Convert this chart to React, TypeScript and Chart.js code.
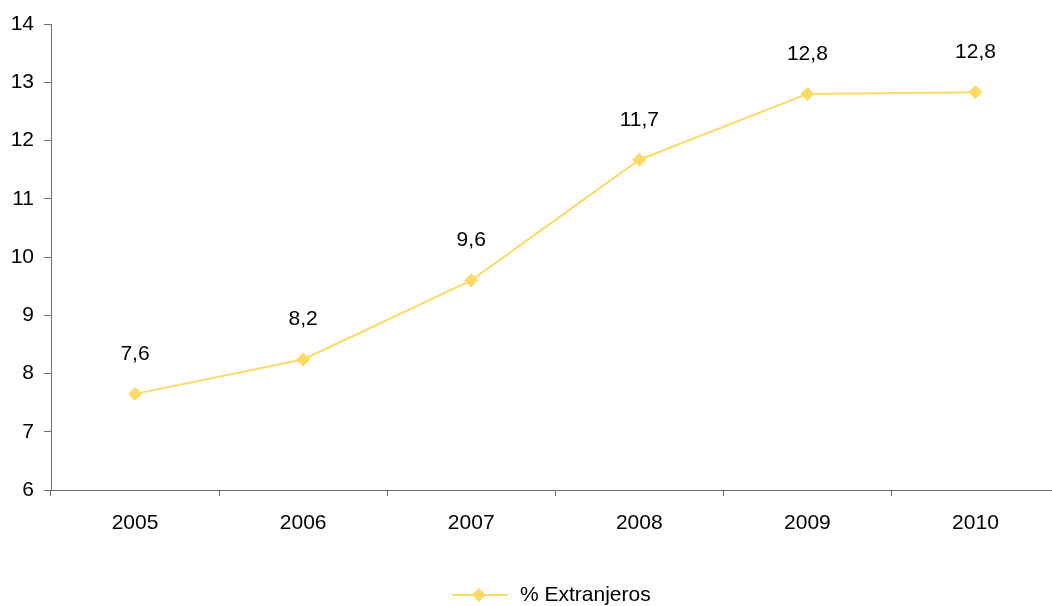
import React, { useEffect, useRef } from "react";
import { Chart, registerables } from "chart.js";

Chart.register(...registerables);

const years = ["2005", "2006", "2007", "2008", "2009", "2010"];
const values = [7.65, 8.24, 9.6, 11.67, 12.8, 12.83];
const valueLabels = ["7,6", "8,2", "9,6", "11,7", "12,8", "12,8"];
const seriesName = "% Extranjeros";

const LINE_COLOR = "#FFD966";
const AXIS_COLOR = "#6e6e6e";
const FONT = "'Liberation Sans', Arial, sans-serif";
const FS = 21;

export default function App() {
  const ref = useRef<HTMLCanvasElement | null>(null);

  useEffect(() => {
    if (!ref.current) return;
    const labelPlugin = {
      id: "valueLabels",
      afterDatasetsDraw(chart: any) {
        const ctx = chart.ctx;
        const meta = chart.getDatasetMeta(0);
        ctx.save();
        ctx.fillStyle = "#000";
        ctx.font = `${FS}px ${FONT}`;
        ctx.textAlign = "center";
        ctx.textBaseline = "middle";
        meta.data.forEach((pt: any, i: number) => {
          ctx.fillText(valueLabels[i], pt.x, pt.y - 40);
        });
        ctx.restore();
      },
      afterDraw(chart: any) {
        const ctx = chart.ctx;
        ctx.save();
        const cy = 595;
        ctx.strokeStyle = LINE_COLOR;
        ctx.lineWidth = 2;
        ctx.beginPath();
        ctx.moveTo(452, cy);
        ctx.lineTo(508, cy);
        ctx.stroke();
        ctx.fillStyle = LINE_COLOR;
        ctx.beginPath();
        const r = 7;
        ctx.moveTo(479, cy - r);
        ctx.lineTo(479 + r, cy);
        ctx.lineTo(479, cy + r);
        ctx.lineTo(479 - r, cy);
        ctx.closePath();
        ctx.fill();
        ctx.fillStyle = "#000";
        ctx.font = `${FS}px ${FONT}`;
        ctx.textAlign = "left";
        ctx.textBaseline = "middle";
        ctx.fillText(seriesName, 520, cy);
        ctx.restore();
      },
    };

    const chart = new Chart(ref.current, {
      type: "line",
      data: {
        labels: years,
        datasets: [
          {
            label: seriesName,
            data: values,
            borderColor: LINE_COLOR,
            backgroundColor: LINE_COLOR,
            borderWidth: 2,
            pointStyle: "rectRot",
            pointRadius: 6.5,
            pointBorderWidth: 1,
            pointBackgroundColor: LINE_COLOR,
            pointBorderColor: LINE_COLOR,
            tension: 0,
          },
        ],
      },
      options: {
        responsive: false,
        animation: false,
        devicePixelRatio: 1,
        layout: { padding: { left: 0, right: 0, top: 24, bottom: 0 } },
        plugins: {
          legend: { display: false },
          tooltip: { enabled: false },
        },
        scales: {
          x: {
            type: "category",
            offset: true,
            grid: {
              display: true,
              offset: true,
              drawOnChartArea: false,
              drawTicks: true,
              tickLength: 6,
              color: AXIS_COLOR,
              lineWidth: 1,
            },
            border: { display: true, color: AXIS_COLOR, width: 1 },
            ticks: {
              color: "#000",
              font: { family: FONT, size: FS },
              padding: 15,
              maxRotation: 0,
            },
            afterFit(scale: any) {
              scale.height = 116;
            },
          },
          y: {
            min: 6,
            max: 14,
            grid: {
              display: true,
              drawOnChartArea: false,
              drawTicks: true,
              tickLength: 7,
              color: AXIS_COLOR,
              lineWidth: 1,
            },
            border: { display: true, color: AXIS_COLOR, width: 1 },
            ticks: {
              stepSize: 1,
              color: "#000",
              font: { family: FONT, size: FS },
              padding: 10,
            },
            afterFit(scale: any) {
              scale.width = 51;
            },
          },
        },
      },
      plugins: [labelPlugin],
    } as any);
    return () => chart.destroy();
  }, []);

  return (
    <div
      style={{
        position: "absolute",
        left: 0,
        top: 0,
        width: 1052,
        height: 606,
        overflow: "hidden",
        background: "#fff",
      }}
    >
      <div style={{ width: 1067, height: 606, position: "relative" }}>
        <canvas ref={ref} width={1067} height={606} style={{ width: 1067, height: 606, display: "block" }} />
      </div>
    </div>
  );
}
